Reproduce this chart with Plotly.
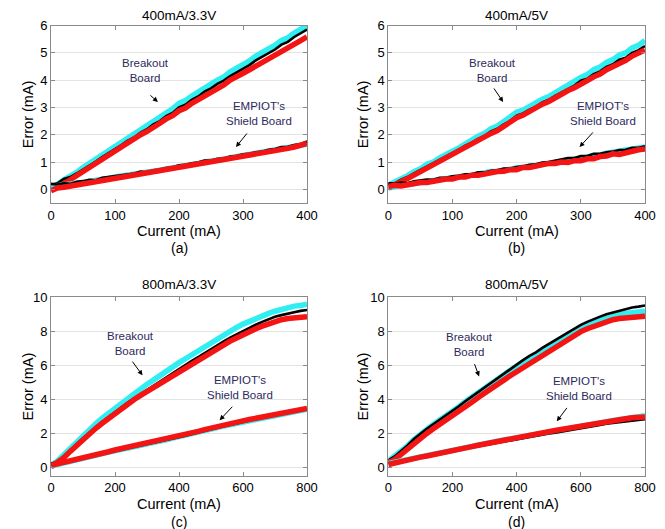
import plotly.graph_objects as go

# ---------------- data ----------------
x400 = list(range(0, 401, 10))
x800 = list(range(0, 801, 20))

# (a) 400mA/3.3V
a_break_cyan = [0.12,0.18,0.35,0.48,0.62,0.80,0.95,1.10,1.28,1.42,1.60,1.72,1.90,2.02,2.20,2.33,2.50,2.62,2.80,2.95,3.15,3.25,3.42,3.55,3.72,3.85,4.00,4.12,4.30,4.42,4.58,4.70,4.88,5.00,5.15,5.28,5.45,5.55,5.72,5.85,6.00]
a_break_black = [0.15,0.22,0.38,0.45,0.58,0.72,0.88,1.02,1.18,1.32,1.48,1.62,1.78,1.90,2.08,2.20,2.38,2.50,2.68,2.80,3.00,3.10,3.28,3.40,3.58,3.70,3.86,3.98,4.15,4.28,4.42,4.55,4.72,4.85,5.00,5.12,5.30,5.40,5.58,5.70,5.85]
a_break_red = [0.00,0.08,0.20,0.35,0.50,0.65,0.82,0.98,1.12,1.28,1.42,1.55,1.72,1.85,2.00,2.12,2.30,2.42,2.58,2.70,2.88,2.98,3.15,3.28,3.45,3.55,3.72,3.82,4.00,4.10,4.25,4.38,4.52,4.65,4.80,4.92,5.08,5.18,5.32,5.45,5.58]
a_shield_cyan = [0.10,0.12,0.15,0.18,0.22,0.25,0.30,0.32,0.38,0.40,0.45,0.48,0.52,0.55,0.60,0.62,0.68,0.70,0.75,0.78,0.85,0.87,0.92,0.95,1.00,1.02,1.08,1.10,1.16,1.20,1.25,1.28,1.34,1.36,1.42,1.45,1.50,1.53,1.58,1.62,1.65]
a_shield_black = [0.20,0.18,0.22,0.20,0.28,0.30,0.35,0.33,0.42,0.45,0.48,0.50,0.55,0.58,0.65,0.62,0.70,0.72,0.78,0.80,0.88,0.90,0.95,0.98,1.05,1.05,1.12,1.12,1.20,1.22,1.28,1.30,1.36,1.38,1.45,1.48,1.55,1.56,1.62,1.66,1.75]
a_shield_red = [-0.05,0.05,0.08,0.12,0.15,0.20,0.22,0.28,0.30,0.36,0.40,0.44,0.48,0.52,0.55,0.60,0.62,0.68,0.72,0.75,0.80,0.85,0.88,0.93,0.96,1.00,1.05,1.08,1.12,1.18,1.20,1.25,1.30,1.32,1.38,1.42,1.45,1.50,1.55,1.60,1.68]

# (b) 400mA/5V
b_break_cyan = [0.15,0.25,0.40,0.50,0.65,0.75,0.92,1.00,1.15,1.25,1.40,1.52,1.68,1.78,1.95,2.05,2.22,2.32,2.50,2.62,2.82,2.90,3.05,3.15,3.30,3.40,3.55,3.68,3.85,3.95,4.10,4.20,4.38,4.48,4.65,4.75,4.92,5.00,5.18,5.28,5.45]
b_break_black = [0.20,0.22,0.35,0.45,0.58,0.70,0.85,0.95,1.08,1.18,1.32,1.45,1.60,1.70,1.85,1.95,2.12,2.22,2.38,2.50,2.70,2.78,2.92,3.02,3.18,3.28,3.42,3.55,3.70,3.80,3.98,4.05,4.22,4.32,4.48,4.58,4.75,4.82,5.00,5.10,5.25]
b_break_red = [0.05,0.15,0.28,0.40,0.52,0.65,0.78,0.90,1.02,1.14,1.28,1.40,1.55,1.65,1.80,1.90,2.05,2.15,2.32,2.45,2.62,2.72,2.86,2.96,3.12,3.22,3.36,3.48,3.62,3.72,3.88,3.98,4.12,4.22,4.38,4.48,4.62,4.72,4.88,4.98,5.10]
b_shield_cyan = [0.05,0.12,0.15,0.18,0.22,0.25,0.28,0.30,0.35,0.38,0.42,0.45,0.50,0.52,0.58,0.60,0.65,0.66,0.72,0.74,0.78,0.80,0.85,0.87,0.92,0.95,1.00,1.02,1.08,1.10,1.15,1.18,1.24,1.25,1.32,1.35,1.40,1.42,1.48,1.50,1.55]
b_shield_black = [0.22,0.20,0.25,0.22,0.30,0.32,0.36,0.35,0.42,0.42,0.48,0.50,0.55,0.55,0.62,0.62,0.68,0.70,0.76,0.76,0.82,0.84,0.90,0.92,0.98,1.00,1.05,1.08,1.15,1.15,1.22,1.22,1.30,1.30,1.36,1.38,1.44,1.45,1.52,1.52,1.58]
b_shield_red = [0.10,0.15,0.12,0.18,0.20,0.25,0.25,0.30,0.32,0.38,0.38,0.45,0.45,0.52,0.52,0.58,0.60,0.65,0.66,0.72,0.72,0.80,0.80,0.86,0.88,0.95,0.95,1.00,0.98,1.05,1.05,1.12,1.12,1.20,1.22,1.30,1.28,1.35,1.38,1.45,1.48]

# (c) 800mA/3.3V
c_break_cyan = [0.10,0.35,0.72,1.10,1.50,1.88,2.22,2.55,2.88,3.18,3.48,3.78,4.05,4.35,4.60,4.88,5.12,5.40,5.62,5.90,6.15,6.38,6.62,6.85,7.08,7.30,7.55,7.75,8.00,8.22,8.42,8.60,8.75,8.92,9.05,9.18,9.30,9.38,9.48,9.52,9.60]
c_break_black = [0.20,0.30,0.62,1.00,1.35,1.70,2.02,2.35,2.65,2.95,3.25,3.52,3.80,4.05,4.30,4.55,4.80,5.02,5.28,5.52,5.80,6.02,6.25,6.48,6.72,6.95,7.18,7.40,7.62,7.82,8.02,8.20,8.38,8.55,8.70,8.85,8.95,9.05,9.12,9.20,9.25]
c_break_red = [0.00,0.25,0.55,0.92,1.28,1.62,1.95,2.28,2.58,2.88,3.18,3.45,3.72,3.98,4.22,4.45,4.70,4.92,5.18,5.40,5.65,5.85,6.08,6.30,6.52,6.78,7.00,7.20,7.42,7.60,7.80,7.98,8.15,8.30,8.45,8.58,8.68,8.75,8.80,8.85,8.85]
c_shield_cyan = [0.05,0.15,0.22,0.35,0.42,0.52,0.60,0.70,0.78,0.88,0.95,1.05,1.12,1.20,1.28,1.36,1.42,1.52,1.60,1.70,1.78,1.88,1.95,2.05,2.15,2.25,2.32,2.42,2.50,2.60,2.68,2.75,2.82,2.90,2.98,3.05,3.12,3.20,3.28,3.35,3.40]
c_shield_black = [0.22,0.20,0.28,0.35,0.45,0.52,0.62,0.68,0.78,0.85,0.95,1.02,1.10,1.18,1.28,1.35,1.42,1.50,1.60,1.68,1.78,1.85,1.95,2.05,2.15,2.22,2.32,2.40,2.50,2.58,2.66,2.75,2.82,2.90,2.98,3.05,3.12,3.20,3.28,3.35,3.42]
c_shield_red = [0.10,0.18,0.30,0.38,0.48,0.55,0.65,0.72,0.82,0.90,1.00,1.08,1.15,1.24,1.32,1.40,1.48,1.56,1.65,1.74,1.82,1.92,2.00,2.10,2.20,2.30,2.38,2.46,2.55,2.64,2.72,2.80,2.88,2.95,3.02,3.10,3.18,3.26,3.32,3.40,3.45]

# (d) 800mA/5V
d_break_cyan = [0.35,0.62,0.92,1.25,1.62,1.95,2.22,2.50,2.75,3.02,3.28,3.55,3.85,4.12,4.42,4.68,4.95,5.20,5.45,5.70,5.95,6.20,6.42,6.65,6.90,7.12,7.35,7.58,7.80,8.02,8.22,8.38,8.52,8.65,8.78,8.88,8.98,9.05,9.10,9.15,9.18]
d_break_black = [0.40,0.62,0.95,1.27,1.65,1.97,2.25,2.52,2.78,3.05,3.32,3.58,3.88,4.15,4.46,4.72,5.00,5.26,5.52,5.78,6.05,6.30,6.55,6.76,7.02,7.24,7.50,7.70,7.95,8.16,8.38,8.55,8.72,8.86,9.00,9.10,9.22,9.30,9.40,9.45,9.52]
d_break_red = [0.25,0.45,0.75,1.08,1.40,1.72,1.98,2.25,2.50,2.75,3.00,3.28,3.55,3.82,4.10,4.38,4.62,4.88,5.12,5.38,5.62,5.88,6.10,6.35,6.60,6.85,7.08,7.30,7.52,7.75,7.98,8.15,8.30,8.42,8.55,8.68,8.75,8.80,8.82,8.85,8.88]
d_shield_cyan = [0.20,0.28,0.35,0.45,0.52,0.62,0.68,0.75,0.85,0.90,0.98,1.05,1.12,1.22,1.30,1.38,1.45,1.52,1.60,1.65,1.72,1.80,1.88,1.95,2.02,2.10,2.15,2.22,2.28,2.35,2.42,2.48,2.55,2.62,2.68,2.75,2.80,2.85,2.92,2.98,3.02]
d_shield_black = [0.22,0.30,0.32,0.42,0.50,0.58,0.66,0.72,0.82,0.88,0.95,1.02,1.10,1.18,1.25,1.32,1.38,1.45,1.52,1.58,1.65,1.72,1.78,1.85,1.92,1.98,2.02,2.08,2.15,2.22,2.28,2.35,2.42,2.48,2.55,2.60,2.65,2.70,2.75,2.80,2.82]
d_shield_red = [0.15,0.25,0.32,0.40,0.50,0.58,0.65,0.74,0.82,0.90,0.96,1.04,1.12,1.20,1.28,1.36,1.44,1.50,1.58,1.65,1.72,1.80,1.86,1.94,2.02,2.08,2.15,2.22,2.28,2.35,2.42,2.50,2.56,2.62,2.68,2.74,2.78,2.84,2.90,2.95,2.95]

titles = ["400mA/3.3V", "400mA/5V", "800mA/3.3V", "800mA/5V"]
sublabels = ["(a)", "(b)", "(c)", "(d)"]
x_ticks_400 = [0, 100, 200, 300, 400]
x_ticks_800 = [0, 200, 400, 600, 800]
y_ticks_6 = [0, 1, 2, 3, 4, 5, 6]
y_ticks_10 = [0, 2, 4, 6, 8, 10]

panels = [
    dict(x=x400, series=[a_break_cyan, a_break_black, a_break_red, a_shield_cyan, a_shield_black, a_shield_red]),
    dict(x=x400, series=[b_break_cyan, b_break_black, b_break_red, b_shield_cyan, b_shield_black, b_shield_red]),
    dict(x=x800, series=[c_break_cyan, c_break_black, c_break_red, c_shield_cyan, c_shield_black, c_shield_red]),
    dict(x=x800, series=[d_break_cyan, d_break_black, d_break_red, d_shield_cyan, d_shield_black, d_shield_red]),
]

# ---------------- layout geometry ----------------
W, H = 665, 529
xdom_px = [(51, 307), (388.3, 645), (51, 307), (388.3, 645)]
ydom_px = [(25.5, 203), (25.5, 203), (297.3, 475.5), (297.3, 475.5)]

COL_CYAN = "#30eef2"
COL_BLACK = "#000000"
COL_RED = "#f41414"
TXT = "#2c2a5c"
AXC = "#8a8a8a"
FONT = "Liberation Sans, Arial, Helvetica, sans-serif"

fig = go.Figure()
order = [(0, COL_CYAN, 5.5), (1, COL_BLACK, 2.6), (2, COL_RED, 5.5)]
for i, p in enumerate(panels):
    xa = "x" if i == 0 else f"x{i+1}"
    ya = "y" if i == 0 else f"y{i+1}"
    for group in (0, 3):
        for k, col, w in order:
            fig.add_trace(go.Scatter(
                x=p["x"], y=p["series"][group + k], mode="lines",
                line=dict(color=col, width=w), xaxis=xa, yaxis=ya,
                showlegend=False, hoverinfo="skip"))

layout = dict(
    template="none",
    width=W, height=H, margin=dict(l=0, r=0, t=0, b=0, autoexpand=False),
    paper_bgcolor="white", plot_bgcolor="white",
    font=dict(family=FONT, size=13, color="black"),
    showlegend=False,
)
annotations = []
for i in range(4):
    sx = "" if i == 0 else str(i + 1)
    x0, x1 = xdom_px[i]
    y0, y1 = ydom_px[i]
    big = i >= 2
    layout["xaxis" + sx] = dict(
        domain=[x0 / W, x1 / W], anchor="y" + sx, automargin=False,
        range=[0, 800 if big else 400],
        tickvals=x_ticks_800 if big else x_ticks_400,
        showgrid=False, zeroline=False, showline=True, linecolor=AXC, linewidth=1,
        mirror="ticks", ticks="inside", ticklen=4, tickcolor=AXC,
        tickfont=dict(size=13, color="black"),
    )
    layout["yaxis" + sx] = dict(
        domain=[1 - y1 / H, 1 - y0 / H], anchor="x" + sx, automargin=False,
        range=[-0.5, 10] if big else [-0.5, 6],
        tickvals=y_ticks_10 if big else y_ticks_6,
        showgrid=True, gridcolor="#e3e3e3", gridwidth=1,
        zeroline=False, showline=True, linecolor=AXC, linewidth=1,
        mirror="ticks", ticks="inside", ticklen=4, tickcolor=AXC,
        tickfont=dict(size=13, color="black"),
    )
    cx = (x0 + x1) / 2 / W
    top_title_y = (15 if not big else 284)
    annotations.append(dict(text=titles[i], xref="paper", yref="paper", x=cx, y=1 - top_title_y / H,
                            showarrow=False, font=dict(size=13.5, color="black"),
                            xanchor="center", yanchor="middle"))
    xt_y = 230.5 if not big else 504
    sl_y = 248 if not big else 521.5
    annotations.append(dict(text="Current (mA)", xref="paper", yref="paper", x=cx, y=1 - xt_y / H,
                            showarrow=False, font=dict(size=14.5, color="black"),
                            xanchor="center", yanchor="middle"))
    annotations.append(dict(text=sublabels[i], xref="paper", yref="paper", x=cx, y=1 - sl_y / H,
                            showarrow=False, font=dict(size=14, color="black"),
                            xanchor="center", yanchor="middle"))
    yt_x = 28 if i % 2 == 0 else 363
    annotations.append(dict(text="Error (mA)", xref="paper", yref="paper", x=yt_x / W,
                            y=1 - (y0 + y1) / 2 / H, textangle=-90,
                            showarrow=False, font=dict(size=14.5, color="black"),
                            xanchor="center", yanchor="middle"))

# text labels and arrows (data coordinates)
labels = [
    # (text pos), (arrow tail), (arrow tip) for Breakout, then Shield
    [((148, 4.37), (153, 3.49), (167, 3.20)), ((325, 2.79), (308, 2.10), (289, 1.55))],
    [((163, 4.37), (163, 3.75), (179, 3.20)), ((334, 2.76), (321, 2.14), (298, 1.55))],
    [((248, 7.30), (251, 6.30), (286, 5.40)), ((592, 4.70), (571, 3.64), (527, 2.76))],
    [((254, 7.20), (267, 6.15), (283, 5.34)), ((594, 4.60), (560, 3.57), (525, 2.69))],
]
label_texts = ["Breakout<br>Board", "EMPIOT's<br>Shield Board"]
for i in range(4):
    sx = "" if i == 0 else str(i + 1)
    for j in range(2):
        (tx, ty), (ax_, ay_), (hx, hy) = labels[i][j]
        annotations.append(dict(text=label_texts[j], xref="x" + sx, yref="y" + sx, x=tx, y=ty,
                                showarrow=False, font=dict(size=11.5, color=TXT),
                                xanchor="center", yanchor="middle"))
        annotations.append(dict(text="", xref="x" + sx, yref="y" + sx, x=hx, y=hy,
                                axref="x" + sx, ayref="y" + sx, ax=ax_, ay=ay_,
                                showarrow=True, arrowhead=2, arrowsize=1, arrowwidth=1,
                                arrowcolor="black"))
layout["annotations"] = annotations
fig.update_layout(**layout)
fig.write_html(
    "out.html",
    config={"displayModeBar": False},
    post_script="document.body.style.margin='0';document.body.style.padding='0';document.body.style.overflow='hidden';",
)
